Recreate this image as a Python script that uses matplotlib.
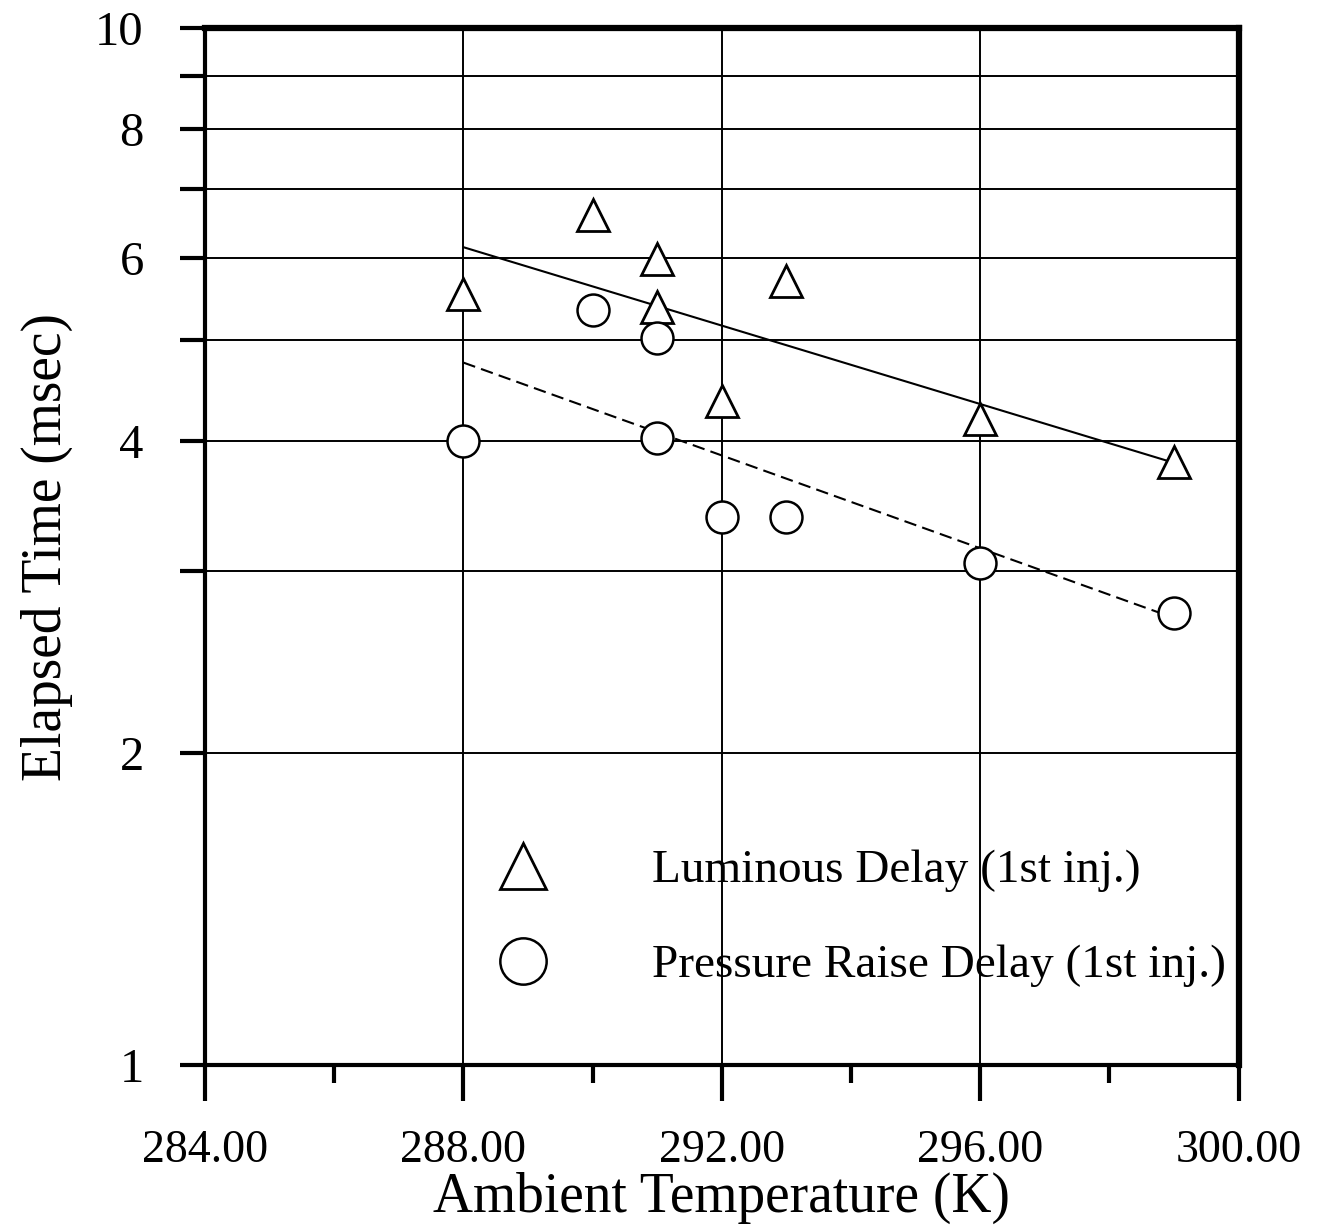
import matplotlib
matplotlib.use("Agg")
import matplotlib.pyplot as plt
from matplotlib.ticker import FixedLocator, NullFormatter

plt.rcParams['font.family'] = ['Liberation Serif', 'DejaVu Serif']

# Luminous delay (triangles)
lum_temp = [288, 290, 291, 291, 292, 293, 296, 299]
lum_time = [5.54, 6.6, 5.99, 5.38, 4.37, 5.71, 4.20, 3.82]

# Pressure raise delay (circles)
prs_temp = [288, 290, 291, 291, 292, 293, 296, 299]
prs_time = [4.0, 5.35, 5.03, 4.03, 3.38, 3.38, 3.05, 2.73]

# fit lines (end points)
lum_fit_temp = [288, 299]
lum_fit_time = [6.15, 3.81]
prs_fit_temp = [288, 299]
prs_fit_time = [4.76, 2.70]

x_major = [284, 288, 292, 296, 300]
x_minor = [286, 290, 294, 298]
x_labels = ["284.00", "288.00", "292.00", "296.00", "300.00"]
y_major = [1, 2, 4, 6, 8, 10]
y_minor = [3, 5, 7, 9]
y_grid = [2, 3, 4, 5, 6, 7, 8, 9]
x_grid = [288, 292, 296]

fig = plt.figure(figsize=(13.22, 12.26), dpi=100)
ax = fig.add_axes([0.155, 0.131, 0.782, 0.846])

ax.set_yscale('log')
ax.set_xlim(284, 300)
ax.set_ylim(1, 10)

# grid
for g in y_grid:
    ax.axhline(g, color='black', lw=1.4, zorder=1)
for g in x_grid:
    ax.axvline(g, color='black', lw=1.4, zorder=1)

# fit lines
ax.plot(lum_fit_temp, lum_fit_time, color='black', lw=1.5, zorder=2)
ax.plot(prs_fit_temp, prs_fit_time, color='black', lw=1.5, dashes=(6, 3), zorder=2)

# data points
ax.plot(lum_temp, lum_time, linestyle='none', marker='^', ms=23, mfc='white',
        mec='black', mew=2, zorder=3, label='Luminous Delay (1st inj.)')
ax.plot(prs_temp, prs_time, linestyle='none', marker='o', ms=23, mfc='white',
        mec='black', mew=1.8, zorder=3, label='Pressure Raise Delay (1st inj.)')

# ticks
ax.xaxis.set_major_locator(FixedLocator(x_major))
ax.xaxis.set_minor_locator(FixedLocator(x_minor))
ax.set_xticklabels(x_labels)
ax.yaxis.set_major_locator(FixedLocator(y_major))
ax.yaxis.set_minor_locator(FixedLocator(y_minor))
ax.set_yticklabels([str(v) for v in y_major])
ax.yaxis.set_minor_formatter(NullFormatter())

ax.tick_params(axis='x', which='major', direction='out', length=26, width=3,
               labelsize=33, pad=20)
ax.tick_params(axis='x', which='minor', direction='out', length=13, width=3)
ax.tick_params(axis='y', which='both', direction='out', length=18, width=3,
               labelsize=35, pad=26)

for side in ['left', 'bottom']:
    ax.spines[side].set_linewidth(3)
for side in ['top', 'right']:
    ax.spines[side].set_linewidth(4.5)

ax.set_xlabel('Ambient Temperature (K)', fontsize=40, labelpad=0)
ax.set_ylabel('Elapsed Time (msec)', fontsize=40, labelpad=16)

ax.legend(loc='center left', bbox_to_anchor=(0.221, 0.142), frameon=False,
          fontsize=34, markerscale=1.45, handlelength=2.0, handletextpad=1.72,
          labelspacing=1.1)

fig.savefig('out.png', dpi=100)
